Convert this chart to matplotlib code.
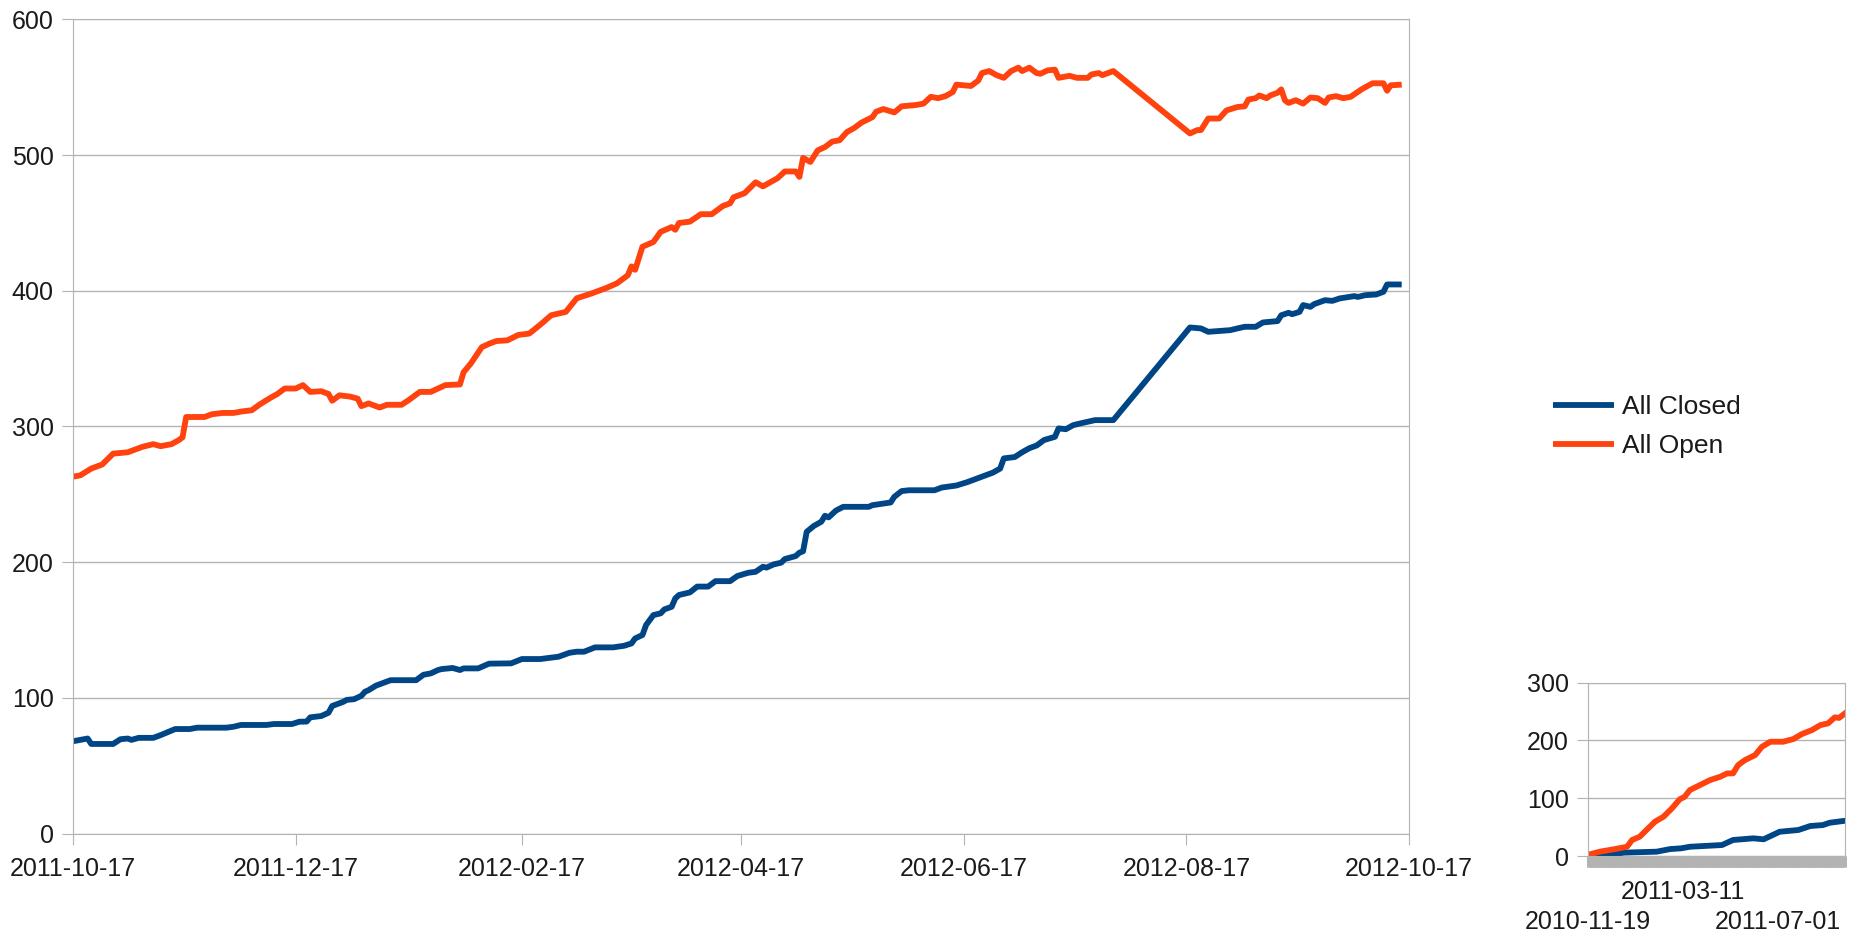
import numpy as np
import matplotlib
matplotlib.use("Agg")
import matplotlib.pyplot as plt
import matplotlib.dates as mdates
import matplotlib.transforms as mtransforms

plt.rcParams['font.family'] = ['Liberation Sans', 'DejaVu Sans']

# main chart: day offsets from 2011-10-17
main_start = np.datetime64('2011-10-17')
open_days = [0, 2, 5, 8, 11, 15, 19, 22, 24, 27, 29, 30, 31, 33, 36, 38, 41, 44, 46, 49,
             51, 54, 56, 58, 61, 63, 65, 68, 70, 71, 73, 76, 78, 79, 81, 84, 86, 90, 92, 95,
             98, 100, 102, 106, 107, 109, 112, 114, 116, 119, 122, 125, 128, 131, 135, 138,
             142, 146, 149, 152, 153, 154, 156, 159, 161, 164, 165, 166, 169, 172, 175, 178,
             180, 181, 184, 187, 189, 191, 193, 195, 198, 199, 200, 202, 204, 206, 208, 210,
             212, 214, 216, 219, 220, 222, 225, 227, 231, 233, 235, 237, 239, 241, 242, 246,
             248, 249, 251, 253, 255, 257, 259, 260, 262, 264, 265, 267, 269, 270, 273, 275,
             278, 279, 281, 282, 284, 285, 306, 308, 309, 311, 314, 316, 319, 321, 322, 324,
             325, 327, 328, 330, 331, 332, 333, 335, 337, 339, 341, 343, 344, 346, 348, 350,
             353, 356, 359, 360, 361, 364]
open_vals = [263, 264, 269, 272, 280, 281, 285, 287, 285.5, 287, 290, 292, 307, 307, 307, 309,
             310, 310, 311, 312, 316, 321, 324, 328, 328, 330.5, 325.5, 326, 324, 319, 323, 322,
             320.5, 315, 317, 314, 316, 316, 319.5, 325.5, 325.5, 328, 330.5, 331, 340, 346.5,
             358.5, 361, 363, 363.5, 367.5, 368.5, 375, 382, 384.5, 394.5, 398, 402, 405.5,
             411.5, 418, 415.5, 432.5, 436, 443.5, 447, 445, 450, 451, 456.5, 456.5, 462.5,
             464.5, 469, 472, 480, 477, 480, 483, 488, 488, 484, 498, 495, 503.5, 506, 510, 511,
             517, 520, 524, 528, 532, 534, 531.5, 536, 537, 538, 543, 542, 543.5, 546.5, 552,
             551, 555, 560.5, 562, 559, 557, 562, 564.5, 562, 564.5, 560.5, 560, 562.5, 563,
             557, 558.5, 557, 557, 559.5, 560.5, 559, 561, 562, 516, 518.5, 518.5, 527, 527,
             533, 535.5, 536, 541, 542, 544, 542, 544, 546, 548.5, 540.5, 538.5, 540.5, 538,
             542.5, 542, 538.5, 542.5, 543.5, 542, 543, 548.5, 553, 553, 547.5, 551.5, 552]

closed_days = [0, 3, 4, 5, 11, 13, 15, 16, 18, 22, 24, 28, 32, 34, 42, 44, 46, 53, 55, 60, 62,
               64, 65, 68, 70, 71, 74, 75, 77, 79, 80, 81, 83, 87, 94, 96, 98, 100, 101, 103,
               104, 106, 107, 111, 114, 120, 122, 123, 128, 133, 136, 138, 140, 143, 148, 151,
               153, 154, 156, 157, 159, 161, 162, 164, 165, 166, 169, 171, 174, 176, 180, 182,
               185, 187, 189, 190, 192, 194, 195, 198, 199, 200, 201, 203, 205, 206, 207, 209,
               211, 218, 219, 221, 224, 225, 227, 229, 236, 238, 242, 245, 248, 250, 252, 254,
               255, 258, 260, 262, 264, 266, 269, 270, 272, 274, 276, 278, 280, 285, 306, 309,
               311, 317, 319, 321, 324, 326, 330, 331, 333, 334, 336, 337, 339, 340, 343, 345,
               347, 351, 352, 354, 357, 359, 360, 364]
closed_vals = [68, 69.5, 70, 66, 66, 69.5, 70, 69, 70.5, 70.5, 72.5, 77, 77, 78, 78, 78.7, 80,
               80, 80.7, 80.7, 82.4, 82.5, 85.6, 86.6, 89, 94, 97, 98.5, 99, 101.5, 104.5, 105.7,
               109, 113, 113, 117, 118, 120.5, 121.2, 121.7, 122, 120.5, 121.7, 121.7, 125.2,
               125.4, 127.5, 128.6, 128.6, 130.3, 133.2, 134, 134, 137.2, 137.2, 138.4, 140.1,
               143.8, 146.3, 153.7, 161, 162.3, 165.2, 167.1, 173.3, 175.8, 177.7, 182, 182, 186,
               186, 189.8, 192.2, 192.9, 196.6, 196, 198.4, 199.6, 202.3, 204.5, 207, 208, 222.4,
               226.8, 229.8, 234.2, 233, 238, 240.8, 240.8, 242, 242.8, 244, 248.2, 252.4, 253,
               253, 255, 256.5, 259, 262, 264, 266, 269, 276.5, 277.5, 281, 284, 286, 290, 292.4,
               298.6, 298, 301, 302.3, 303.5, 304.7, 304.7, 373, 372.3, 369.8, 371, 372.3, 373.5,
               373.5, 376.7, 377.7, 382, 383.8, 382.8, 384.5, 389.5, 388.2, 390.2, 393.1, 392.6,
               394.4, 396.1, 395.5, 396.8, 397.3, 399.3, 404.7, 404.7]

main_ticks = ['2011-10-17', '2011-12-17', '2012-02-17', '2012-04-17',
              '2012-06-17', '2012-08-17', '2012-10-17']

# small chart: day offsets from 2010-11-19
inset_start = np.datetime64('2010-11-19')
inset_open_days = [0, 14, 30, 46, 52, 61, 71, 79, 89, 99, 108, 114, 120, 132, 144, 156, 164,
                   171, 177, 185, 197, 205, 215, 230, 242, 252, 264, 274, 283, 291, 296, 303]
inset_open_vals = [2, 7.5, 11.5, 16, 27.7, 33.4, 48, 59.4, 68, 82.5, 98, 102.6, 114, 122.8,
                   131.5, 137.2, 143, 143, 157.4, 166, 174.7, 189, 197.8, 197.8, 202.4, 211,
                   218, 226.6, 229.6, 240, 239, 247]
inset_closed_days = [0, 26, 42, 81, 97, 110, 120, 158, 171, 195, 207, 226, 248, 262, 277, 285, 303]
inset_closed_vals = [0, 1.7, 5.8, 7.5, 12, 13.3, 16, 19, 27.7, 30.6, 28.9, 42, 45, 51.9, 53.6,
                     57.6, 61]
inset_ticks = ['2010-11-19', '2011-03-11', '2011-07-01']

BLUE = '#004586'
ORANGE = '#ff420e'
GRAY = '#b3b3b3'
TXT = '#1a1a1a'
FS = 18
LW = 4.2


def to_dates(start, days):
    return (start + np.array(days, dtype='timedelta64[D]')).astype('datetime64[s]').astype(object)


def str_dates(labels):
    return [np.datetime64(t).astype('datetime64[s]').astype(object) for t in labels]


fig = plt.figure(figsize=(18.63, 9.34), dpi=100)

ax = fig.add_axes([73 / 1863, 1 - 833.5 / 934, (1409 - 73) / 1863, (833.5 - 19.5) / 934])
ax.plot(to_dates(main_start, closed_days), closed_vals, color=BLUE, lw=LW,
        solid_joinstyle='round', solid_capstyle='butt', label='All Closed')
ax.plot(to_dates(main_start, open_days), open_vals, color=ORANGE, lw=LW,
        solid_joinstyle='round', solid_capstyle='butt', label='All Open')
ax.set_ylim(0, 600)
ax.set_yticks(range(0, 601, 100))
ax.set_xlim(to_dates(main_start, [0])[0], to_dates(main_start, [366])[0])
ax.set_xticks(str_dates(main_ticks))
ax.set_xticklabels(main_ticks)
ax.grid(axis='y', color=GRAY, lw=1)
ax.set_axisbelow(True)
for s in ax.spines.values():
    s.set_color(GRAY)
ax.tick_params(axis='both', length=8, color=GRAY, labelsize=FS, labelcolor=TXT)
ax.tick_params(axis='y', pad=6)
ax.tick_params(axis='x', pad=9)

leg = fig.legend(loc='center left', bbox_to_anchor=(1553 / 1863, 1 - 426.5 / 934), frameon=False,
                 fontsize=19, handlelength=2.3, handletextpad=0.3, labelspacing=0.55,
                 borderpad=0, borderaxespad=0)
for t in leg.get_texts():
    t.set_color(TXT)

ax2 = fig.add_axes([1588 / 1863, 1 - 856 / 934, (1845 - 1588) / 1863, (856 - 682.7) / 934])
ax2.plot(to_dates(inset_start, inset_closed_days), inset_closed_vals, color=BLUE, lw=LW,
         solid_joinstyle='round')
ax2.plot(to_dates(inset_start, inset_open_days), inset_open_vals, color=ORANGE, lw=LW,
         solid_joinstyle='round')
ax2.set_ylim(0, 300)
ax2.set_yticks(range(0, 301, 100))
ax2.set_xlim(to_dates(inset_start, [0])[0], to_dates(inset_start, [303])[0])
ax2.set_xticks(str_dates(inset_ticks))
ax2.set_xticklabels(['', inset_ticks[1], ''])
ax2.xaxis.set_minor_locator(mdates.DayLocator())
ax2.grid(axis='y', color=GRAY, lw=1)
ax2.set_axisbelow(True)
for s in ax2.spines.values():
    s.set_color(GRAY)
ax2.tick_params(axis='both', which='both', length=8, color=GRAY, labelsize=FS, labelcolor=TXT)
ax2.tick_params(axis='x', which='both', width=2.2)
ax2.tick_params(axis='x', which='major', pad=9)
ax2.tick_params(axis='y', pad=6)

# staggered second row of date labels under the small chart
trans = mtransforms.blended_transform_factory(ax2.transData, ax2.transAxes)
for d, lab in zip(str_dates(inset_ticks), inset_ticks):
    if lab != inset_ticks[1]:
        ax2.text(d, -0.38, lab, transform=trans, ha='center', va='center',
                 fontsize=FS, color=TXT, clip_on=False)

fig.savefig('out.png', dpi=100)
